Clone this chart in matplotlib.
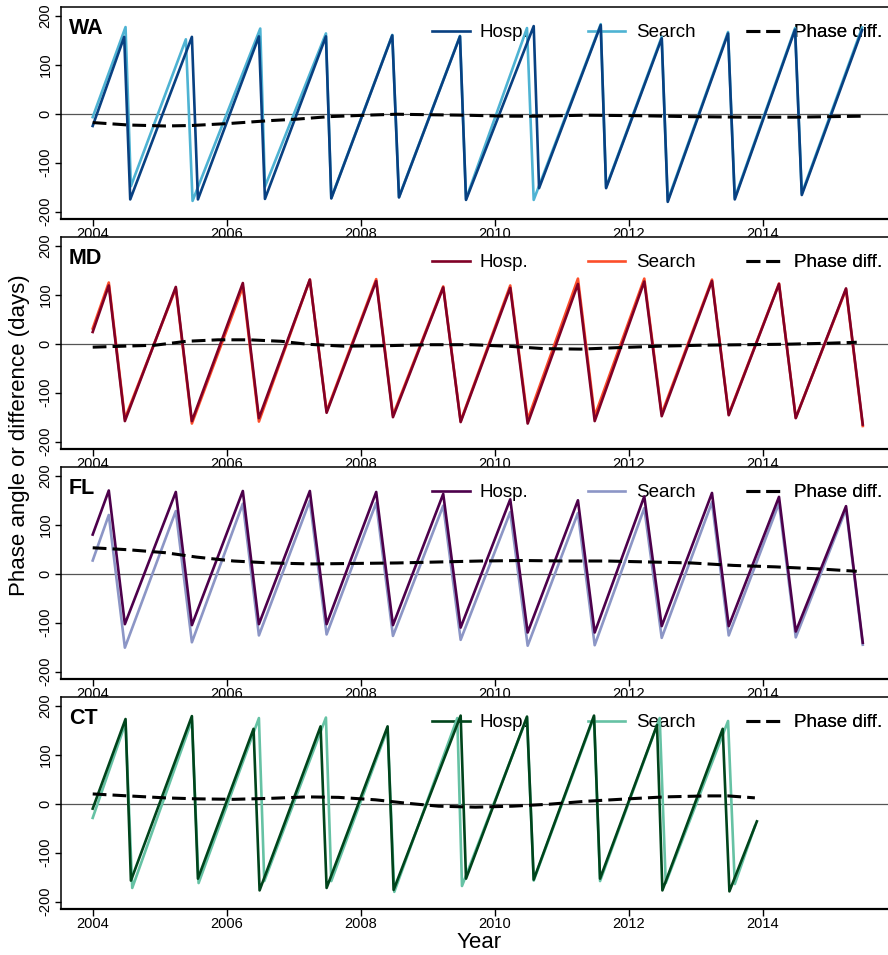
import matplotlib
matplotlib.use('Agg')
import matplotlib.pyplot as plt

plt.rcParams['font.family'] = ['Liberation Sans', 'DejaVu Sans']
plt.rcParams['axes.unicode_minus'] = False

STATES = ['WA', 'MD', 'FL', 'CT']
COLORS = {'WA': ('#084081', '#4eb3d3'), 'MD': ('#800026', '#fc4e2a'),
          'FL': ('#4d004b', '#8c96c6'), 'CT': ('#00441b', '#66c2a4')}

# --- WA ---
wa_hosp_t = [2004.0, 2004.47, 2004.56, 2005.48, 2005.57, 2006.48, 2006.57, 2007.48, 2007.56, 2008.47, 2008.57,
             2009.48, 2009.57, 2010.58, 2010.66, 2011.58, 2011.66, 2012.49, 2012.58, 2013.48, 2013.58, 2014.48,
             2014.58, 2015.48]
wa_hosp = [-25, 157, -175, 157, -175, 158, -174, 158, -173, 160, -171, 158, -176, 179, -152, 181, -152, 154, -180,
           164, -175, 172, -166, 171]
wa_search_t = [2004.0, 2004.49, 2004.57, 2005.39, 2005.49, 2006.50, 2006.57, 2007.48, 2007.56, 2008.47, 2008.57,
               2009.48, 2009.57, 2010.48, 2010.58, 2011.58, 2011.66, 2012.49, 2012.58, 2013.48, 2013.58, 2014.48,
               2014.58, 2015.48]
wa_search = [-7, 177, -148, 152, -178, 174, -149, 164, -172, 161, -170, 159, -174, 175, -176, 183, -150, 157, -177,
             167, -172, 175, -163, 176]
wa_diff_t = [2004.0, 2004.53, 2005.08, 2005.48, 2006.03, 2006.65, 2007.05, 2007.52, 2008.07, 2008.54, 2009.0,
             2009.56, 2010.18, 2010.58, 2011.36, 2012.15, 2012.93, 2013.72, 2014.5, 2015.48]
wa_diff = [-18, -23, -25, -24, -20, -14, -11, -6, -3, -1, -2, -3, -5, -5, -3, -4, -6, -7, -7, -5]

# --- MD ---
md_t = [2004.0, 2004.24, 2004.48, 2005.24, 2005.48, 2006.24, 2006.48, 2007.24, 2007.49, 2008.23, 2008.48, 2009.23,
        2009.49, 2010.23, 2010.49, 2011.24, 2011.49, 2012.23, 2012.49, 2013.24, 2013.49, 2014.24, 2014.49, 2015.24,
        2015.49]
md_hosp = [24, 119, -158, 116, -158, 124, -152, 131, -141, 128, -150, 115, -160, 114, -163, 122, -158, 127, -148,
           128, -146, 122, -152, 113, -165]
md_search = [31, 125, -153, 113, -163, 116, -159, 131, -138, 132, -146, 117, -158, 119, -155, 133, -148, 133, -143,
             131, -144, 123, -151, 111, -168]
md_diff_t = [2004.0, 2004.46, 2004.93, 2005.4, 2005.87, 2006.34, 2006.81, 2007.2, 2007.75, 2008.38, 2009.0, 2009.64,
             2010.19, 2010.73, 2011.28, 2011.83, 2012.46, 2013.09, 2013.72, 2014.35, 2014.97, 2015.4]
md_diff = [-7, -5, -3, 5, 8, 8, 5, -1, -5, -4, -2, -2, -5, -10, -11, -8, -5, -3, -2, -1, 1, 3]

# --- FL ---
fl_t = md_t
fl_hosp = [80, 170, -103, 167, -105, 169, -103, 169, -103, 167, -105, 163, -110, 152, -120, 150, -120, 158, -107,
           165, -107, 157, -118, 138, -141]
fl_search = [27, 120, -151, 128, -140, 143, -126, 149, -124, 145, -127, 139, -135, 126, -147, 124, -146, 134, -131,
             146, -126, 144, -130, 132, -145]
fl_diff_t = [2004.0, 2004.53, 2005.08, 2005.55, 2006.1, 2006.65, 2007.28, 2007.9, 2008.54, 2009.16, 2009.79,
             2010.42, 2011.05, 2011.68, 2012.3, 2012.93, 2013.56, 2014.19, 2014.82, 2015.4]
fl_diff = [53, 49, 43, 34, 26, 22, 20, 21, 22, 24, 26, 27, 26, 26, 24, 22, 17, 14, 10, 5]

# --- CT ---
ct_hosp_t = [2004.0, 2004.49, 2004.57, 2005.48, 2005.57, 2006.40, 2006.49, 2007.40, 2007.49, 2008.40, 2008.49,
             2009.49, 2009.57, 2010.48, 2010.58, 2011.48, 2011.57, 2012.42, 2012.50, 2013.40, 2013.50, 2013.91]
ct_hosp = [-10, 173, -157, 179, -153, 153, -177, 158, -172, 158, -176, 180, -153, 178, -155, 180, -153, 161, -177,
           153, -179, -36]
ct_search_t = [2004.0, 2004.49, 2004.59, 2005.48, 2005.58, 2006.48, 2006.56, 2007.48, 2007.56, 2008.40, 2008.50,
               2009.44, 2009.51, 2010.48, 2010.58, 2011.48, 2011.57, 2012.46, 2012.55, 2013.48, 2013.58, 2013.88]
ct_search = [-29, 165, -172, 170, -162, 175, -158, 176, -158, 153, -180, 175, -168, 176, -157, 177, -158, 175, -162,
             169, -164, -46]
ct_diff_t = [2004.0, 2004.53, 2005.08, 2005.55, 2006.1, 2006.65, 2007.2, 2007.67, 2008.22, 2008.69, 2009.16,
             2009.71, 2010.26, 2010.81, 2011.36, 2011.99, 2012.54, 2013.17, 2013.48, 2013.88]
ct_diff = [20, 16, 12, 10, 9, 11, 14, 13, 8, 1, -5, -7, -5, -1, 5, 10, 14, 16, 16, 12]

PANELS = {
    'WA': (wa_hosp_t, wa_hosp, wa_search_t, wa_search, wa_diff_t, wa_diff),
    'MD': (md_t, md_hosp, md_t, md_search, md_diff_t, md_diff),
    'FL': (fl_t, fl_hosp, fl_t, fl_search, fl_diff_t, fl_diff),
    'CT': (ct_hosp_t, ct_hosp, ct_search_t, ct_search, ct_diff_t, ct_diff),
}

W, H = 888, 955
fig = plt.figure(figsize=(W / 100, H / 100), dpi=100)

# legend entries sit at fixed horizontal slots (axes fraction)
LEG_X = [0.4396, 0.6244, 0.8116]

tops = [7, 237, 467, 697]
for st, top in zip(STATES, tops):
    ht, hv, stt, sv, dt, dv = PANELS[st]
    hc, sc = COLORS[st]
    ax = fig.add_axes([61 / W, 1 - (top + 212) / H, (905 - 61) / W, 212 / H])
    ax.axhline(0, color='#555555', lw=0.9, zorder=1)
    # search underneath, hosp on top
    l_s, = ax.plot(stt, sv, color=sc, lw=1.9, zorder=6, label='Search')
    l_h, = ax.plot(ht, hv, color=hc, lw=1.9, zorder=7, label='Hosp.')
    l_d, = ax.plot(dt, dv, color='black', lw=2.2, ls=(0, (4.5, 2.0)), zorder=8, label='Phase diff.')

    ax.set_xlim(2003.527, 2016.12)
    ax.set_ylim(-215, 218)
    ax.set_xticks(range(2004, 2016, 2))
    ax.set_yticks([-200, -100, 0, 100, 200])
    ax.tick_params(axis='x', direction='out', length=5, width=1, labelsize=10.5, pad=1)
    ax.tick_params(axis='y', direction='out', length=4, width=1, labelsize=10.5, pad=2)
    for t in ax.get_yticklabels():
        t.set_rotation(90)
        t.set_va('center')
    for s in ax.spines.values():
        s.set_linewidth(1.1)
    ax.spines['bottom'].set_linewidth(1.6)

    ax.annotate(st, xy=(0, 1), xycoords='axes fraction', xytext=(8, -11), textcoords='offset pixels',
                ha='left', va='top', fontsize=15.5, fontweight='bold')
    for h, lx in zip([l_h, l_s, l_d], LEG_X):
        leg = ax.legend(handles=[h], loc='upper left', bbox_to_anchor=(lx, 0.92), frameon=False, fontsize=13.5,
                        handlelength=2.0, handletextpad=0.55, borderpad=0, borderaxespad=0)
        leg.set_zorder(1)
        ax.add_artist(leg)

fig.text(20 / W, 1 - 435 / H, 'Phase angle or difference (days)', rotation=90, ha='center', va='center',
         fontsize=16)
fig.text(479 / W, 1 - 942 / H, 'Year', ha='center', va='center', fontsize=16)

fig.savefig('out.png', dpi=100)
